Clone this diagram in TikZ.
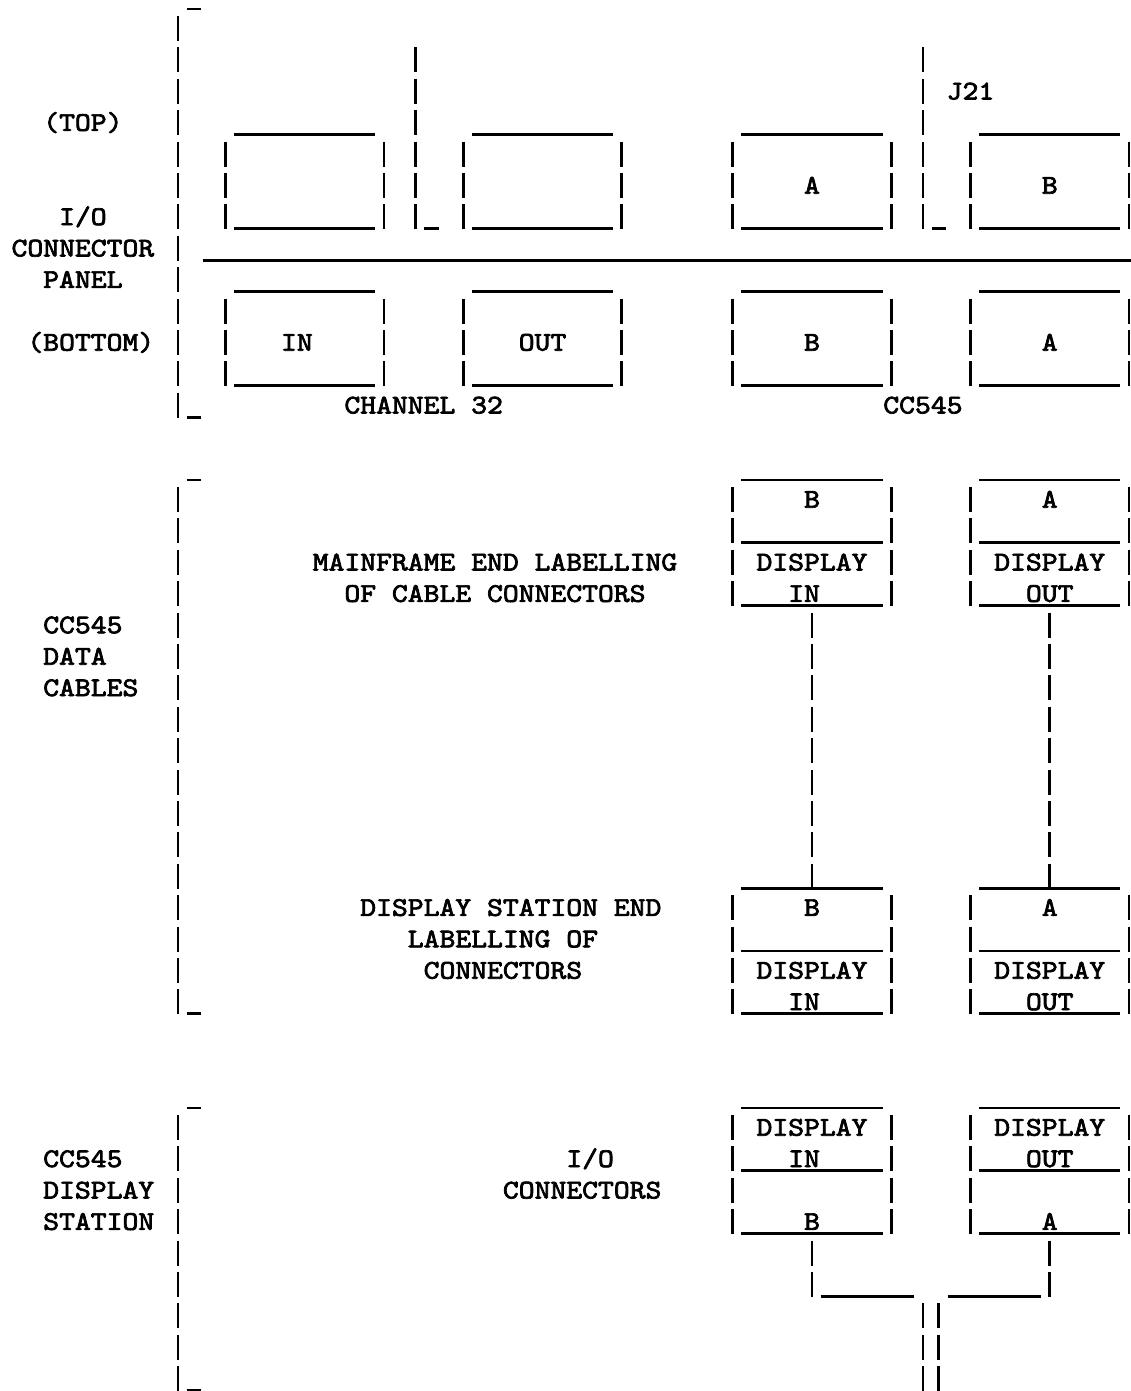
\documentclass[tikz,border=0pt]{standalone}
\usepackage{graphicx}
\usepackage{fontspec}
\newfontfamily\asciimono{lmmono10-regular.otf}[FakeBold=2.5]
\newcommand\tfont{\asciimono\fontsize{27}{27}\selectfont}
\tikzset{
  asciiline/.style={line width=2.8pt, line cap=butt},
  asciibar/.style={line width=2.8pt, dash pattern=on 25.1pt off 6.3pt},
  asciitext/.style={anchor=base west, inner sep=0pt, outer sep=0pt, font=\tfont}
}
% horizontal underscore run: cols #1..#2 on row #3
\newcommand\hl[3]{\draw[asciiline] ({#1-0.45},{#3+0.38}) -- ({#2+0.45},{#3+0.38});}
% vertical bar run: col #1, rows #2..#3
\newcommand\vb[3]{\draw[asciibar] (#1,{#2-0.4}) -- (#1,{#3+0.4});}
% text: name, first col, row, text
\newcommand\tx[4]{\node[asciitext] (#1) at ({#2-0.5},{#3+0.26}) {\scalebox{1.118}[1]{#4}};}
\begin{document}
\begin{tikzpicture}[x=15.85pt, y=-31.4pt]
\fill[white] (-19.5pt,28.5pt) rectangle (1111.5pt,-1362.5pt);
\useasboundingbox (-19.5pt,28.5pt) rectangle (1111.5pt,-1362.5pt);

% ---------------- Section 1: I/O connector panel ----------------
\hl{11}{11}{-1}
\vb{10}{0}{12}
\hl{11}{11}{12}
\tx{top}{2}{3}{(TOP)}
\tx{io}{3}{6}{I/O}
\tx{conn}{0}{7}{CONNECTOR}
\tx{panel}{2}{8}{PANEL}
\tx{bottom}{1}{10}{(BOTTOM)}

% top row boxes
\hl{14}{22}{3} \vb{13}{4}{6} \vb{23}{4}{6} \hl{14}{22}{6}
\vb{25}{1}{6} \hl{26}{26}{6}
\hl{29}{37}{3} \vb{28}{4}{6} \vb{38}{4}{6} \hl{29}{37}{6}
\hl{46}{54}{3} \vb{45}{4}{6} \vb{55}{4}{6} \hl{46}{54}{6}
\tx{topA}{50}{5}{A}
\vb{57}{1}{6} \hl{58}{58}{6}
\tx{jtwentyone}{59}{2}{J21}
\hl{61}{69}{3} \vb{60}{4}{6} \vb{70}{4}{6} \hl{61}{69}{6}
\tx{topB}{65}{5}{B}

% panel line
\hl{12}{70}{7}

% bottom row boxes
\hl{14}{22}{8} \vb{13}{9}{11} \vb{23}{9}{11} \hl{14}{22}{11}
\tx{botIN}{17}{10}{IN}
\hl{29}{37}{8} \vb{28}{9}{11} \vb{38}{9}{11} \hl{29}{37}{11}
\tx{botOUT}{32}{10}{OUT}
\hl{46}{54}{8} \vb{45}{9}{11} \vb{55}{9}{11} \hl{46}{54}{11}
\tx{botB}{50}{10}{B}
\hl{61}{69}{8} \vb{60}{9}{11} \vb{70}{9}{11} \hl{61}{69}{11}
\tx{botA}{65}{10}{A}

\tx{chan}{21}{12}{CHANNEL 32}
\tx{ccone}{55}{12}{CC545}

% ---------------- Section 2: data cables ----------------
\hl{11}{11}{14}
\vb{10}{15}{31}
\hl{11}{11}{31}
\tx{cctwo}{2}{19}{CC545}
\tx{data}{2}{20}{DATA}
\tx{cables}{2}{21}{CABLES}
\tx{mainA}{19}{17}{MAINFRAME END LABELLING}
\tx{mainB}{21}{18}{OF CABLE CONNECTORS}
\tx{dsA}{22}{28}{DISPLAY STATION END}
\tx{dsB}{25}{29}{LABELLING OF}
\tx{dsC}{26}{30}{CONNECTORS}

% upper cable connectors
\hl{46}{54}{14} \vb{45}{15}{18} \vb{55}{15}{18} \hl{46}{54}{16} \hl{46}{54}{18}
\tx{uB}{50}{15}{B}
\tx{uBd}{47}{17}{DISPLAY}
\tx{uBi}{49}{18}{IN}
\hl{61}{69}{14} \vb{60}{15}{18} \vb{70}{15}{18} \hl{61}{69}{16} \hl{61}{69}{18}
\tx{uA}{65}{15}{A}
\tx{uAd}{62}{17}{DISPLAY}
\tx{uAo}{64}{18}{OUT}

% lower cable connectors
\hl{46}{54}{27} \vb{45}{28}{31} \vb{55}{28}{31} \hl{46}{54}{29} \hl{46}{54}{31}
\tx{lB}{50}{28}{B}
\tx{lBd}{47}{30}{DISPLAY}
\tx{lBi}{49}{31}{IN}
\hl{61}{69}{27} \vb{60}{28}{31} \vb{70}{28}{31} \hl{61}{69}{29} \hl{61}{69}{31}
\tx{lA}{65}{28}{A}
\tx{lAd}{62}{30}{DISPLAY}
\tx{lAo}{64}{31}{OUT}

% cables between connectors
\coordinate (cabBtop) at (50,18.6);
\coordinate (cabBbot) at (50,27.4);
\coordinate (cabAtop) at (65,18.6);
\coordinate (cabAbot) at (65,27.4);
\draw[asciibar] (cabBtop) -- (cabBbot);
\draw[asciibar] (cabAtop) -- (cabAbot);

% ---------------- Section 3: display station ----------------
\hl{11}{11}{34}
\vb{10}{35}{43}
\hl{11}{11}{43}
\tx{ccthree}{2}{36}{CC545}
\tx{disp}{2}{37}{DISPLAY}
\tx{stat}{2}{38}{STATION}
\tx{ioB}{35}{36}{I/O}
\tx{ioC}{31}{37}{CONNECTORS}

\hl{46}{54}{34} \vb{45}{35}{38} \vb{55}{35}{38} \hl{46}{54}{36} \hl{46}{54}{38}
\tx{sBd}{47}{35}{DISPLAY}
\tx{sBi}{49}{36}{IN}
\tx{sB}{50}{38}{B}
\hl{61}{69}{34} \vb{60}{35}{38} \vb{70}{35}{38} \hl{61}{69}{36} \hl{61}{69}{38}
\tx{sAd}{62}{35}{DISPLAY}
\tx{sAo}{64}{36}{OUT}
\tx{sA}{65}{38}{A}

% station cabling
\coordinate (stB) at (50,38.6);
\coordinate (stBc) at (50,40.4);
\coordinate (stA) at (65,38.6);
\coordinate (stAc) at (65,40.4);
\draw[asciibar] (stB) -- (stBc);
\draw[asciibar] (stA) -- (stAc);
\hl{51}{56}{40}
\hl{59}{64}{40}
\vb{57}{41}{43}
\vb{58}{41}{43}
\end{tikzpicture}
\end{document}
